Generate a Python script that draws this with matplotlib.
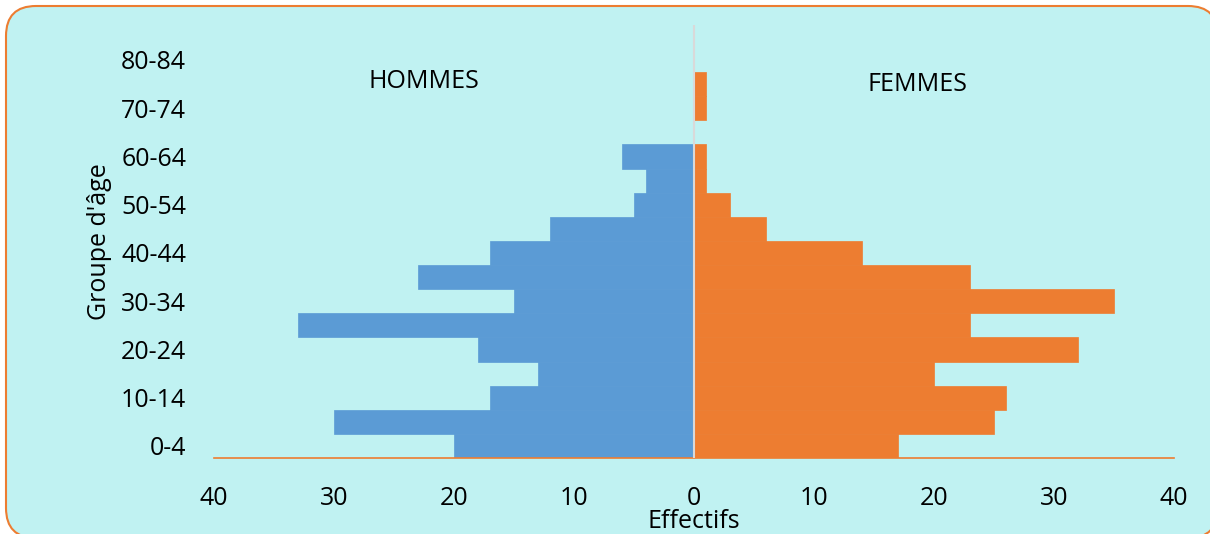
import matplotlib.pyplot as plt
from matplotlib.patches import FancyBboxPatch
from matplotlib.transforms import IdentityTransform

groups = ['0-4', '5-9', '10-14', '15-19', '20-24', '25-29', '30-34', '35-39',
          '40-44', '45-49', '50-54', '55-59', '60-64', '65-69', '70-74',
          '75-79', '80-84']
hommes = [20, 30, 17, 13, 18, 33, 15, 23, 17, 12, 5, 4, 6, 0, 0, 0, 0]
femmes = [17, 25, 26, 20, 32, 23, 35, 23, 14, 6, 3, 1, 1, 0, 1, 1, 0]
xticks = [-40, -30, -20, -10, 0, 10, 20, 30, 40]

blue = '#5B9BD5'
orange = '#ED7D31'
font = 'Open Sans'

fig = plt.figure(figsize=(12.1, 5.34), dpi=100)
fig.patch.set_facecolor('white')

# rounded frame of the chart area
box = FancyBboxPatch((6, -4), 1212, 532, boxstyle='round,pad=0,rounding_size=30',
                     transform=IdentityTransform(), facecolor='#C0F2F2',
                     edgecolor=orange, linewidth=1.5, zorder=-5)
fig.patches.append(box)

ax = fig.add_axes([214 / 1210, (534 - 458) / 534, 960 / 1210, (458 - 25) / 534])
ax.set_zorder(2)
ax.patch.set_alpha(0)

y = list(range(len(groups)))
ax.barh(y, [-v for v in hommes], height=1.0, color=blue, edgecolor=blue, linewidth=0.5)
ax.barh(y, femmes, height=1.0, color=orange, edgecolor=orange, linewidth=0.5)
ax.axvline(0, color='#D9D9D9', lw=1.5, zorder=5)

ax.set_xlim(-40, 40)
ax.set_ylim(-0.5, -0.5 + 433 / 24.125)
ax.set_xticks(xticks)
ax.set_xticklabels([str(abs(t)) for t in xticks], fontsize=18, family=font)
ax.set_yticks(y[::2])
ax.set_yticklabels(groups[::2], fontsize=18, family=font)
ax.tick_params(axis='x', length=0, pad=20)
ax.tick_params(axis='y', length=0, pad=20)

for s in ['top', 'left', 'right']:
    ax.spines[s].set_visible(False)
ax.spines['bottom'].set_color(orange)
ax.spines['bottom'].set_linewidth(1.2)

ax.text(-22.5, 15.1, 'HOMMES', fontsize=18, family=font, ha='center', va='center')
ax.text(18.6, 15.0, 'FEMMES', fontsize=18, family=font, ha='center', va='center')

fig.text(694 / 1210, (534 - 521) / 534, 'Effectifs', fontsize=18, family=font,
         ha='center', va='center')
fig.text(100 / 1210, (534 - 242) / 534, "Groupe d'âge", fontsize=18, family=font,
         ha='center', va='center', rotation=90)

fig.savefig('out.png', dpi=100)
